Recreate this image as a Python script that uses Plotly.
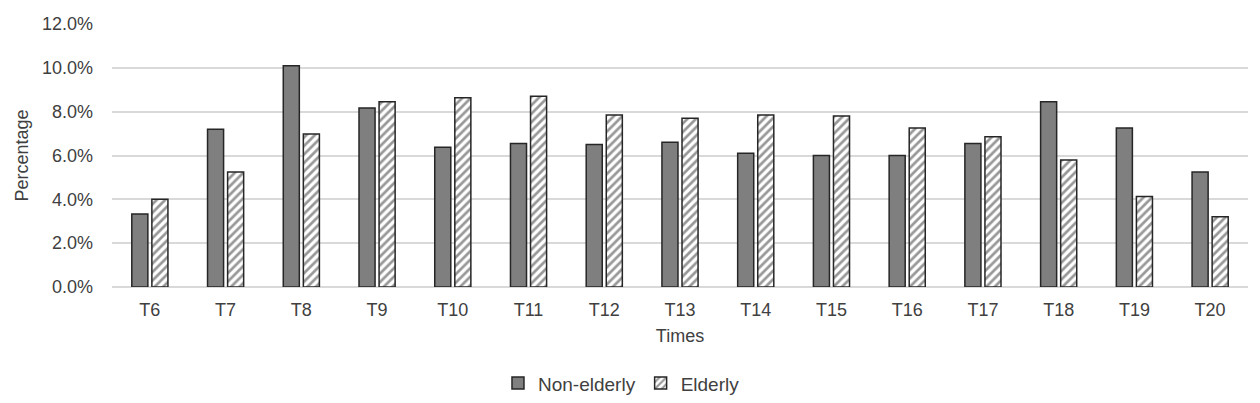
import plotly.graph_objects as go

categories = ["T6", "T7", "T8", "T9", "T10", "T11", "T12", "T13", "T14", "T15", "T16", "T17", "T18", "T19", "T20"]
non_elderly = [3.33, 7.2, 10.1, 8.17, 6.38, 6.55, 6.5, 6.6, 6.1, 6.0, 6.0, 6.55, 8.45, 7.25, 5.25]
elderly = [4.0, 5.25, 6.98, 8.45, 8.63, 8.7, 7.85, 7.7, 7.85, 7.8, 7.25, 6.85, 5.8, 4.13, 3.2]

ne = [v / 100 for v in non_elderly]
el = [v / 100 for v in elderly]

FONT = "Liberation Sans, Arial, sans-serif"
TXT = "#404040"

fig = go.Figure()
fig.add_trace(go.Bar(
    x=categories, y=ne, name="Non-elderly",
    marker=dict(color="#7f7f7f", line=dict(color="#262626", width=1.5)),
))
fig.add_trace(go.Bar(
    x=categories, y=el, name="Elderly",
    marker=dict(color="white", line=dict(color="#262626", width=1.5),
                pattern=dict(shape="/", fgcolor="#303030", bgcolor="white", size=6, solidity=0.45)),
))

fig.update_layout(
    width=1252, height=395,
    margin=dict(l=104, r=12, t=16, b=116, autoexpand=False),
    paper_bgcolor="white", plot_bgcolor="white",
    barmode="group", bargap=0.47, bargroupgap=0.2,
    font=dict(family=FONT, size=18, color=TXT),
    showlegend=True,
    legend=dict(orientation="h", xref="container", x=0.49, xanchor="center",
                yref="container", y=0.05, yanchor="middle",
                font=dict(family=FONT, size=19, color=TXT), traceorder="normal",
                itemwidth=30),
    xaxis=dict(
        title=dict(text="Times", font=dict(family=FONT, size=18, color=TXT), standoff=10),
        tickfont=dict(family=FONT, size=18, color=TXT),
        showgrid=False, showline=False, ticks="", automargin=False,
        ticklabelstandoff=10,
    ),
    yaxis=dict(
        title=dict(text="Percentage", font=dict(family=FONT, size=18, color=TXT), standoff=8),
        range=[0, 0.12], dtick=0.02, tickformat=".1%",
        tickfont=dict(family=FONT, size=18, color=TXT),
        showgrid=True, gridcolor="#d9d9d9", gridwidth=1.5,
        zeroline=True, zerolinecolor="#d9d9d9", zerolinewidth=1.5,
        ticks="", automargin=False, ticklabelstandoff=18,
    ),
)

fig.write_html("out.html")
